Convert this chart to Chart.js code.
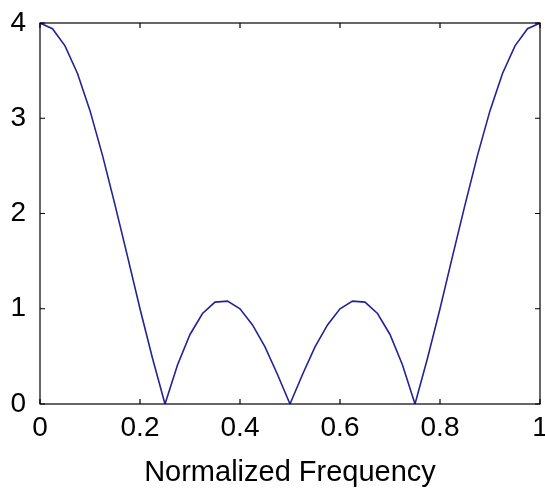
<!DOCTYPE html>
<html>
<head>
<meta charset="utf-8">
<script src="https://cdn.jsdelivr.net/npm/chart.js@4"></script>
<style>
  html, body { margin: 0; padding: 0; background: #fff; overflow: hidden; }
  #wrap { width: 545px; height: 497px; }
</style>
</head>
<body>
<div id="wrap"><canvas id="myChart"></canvas></div>
<script>
// valores (respuesta en magnitud)
const frecuencias = [0, 0.025, 0.05, 0.075, 0.1, 0.125, 0.15, 0.175, 0.2, 0.225,
  0.25, 0.275, 0.3, 0.325, 0.35, 0.375, 0.4, 0.425, 0.45, 0.475,
  0.5, 0.525, 0.55, 0.575, 0.6, 0.625, 0.65, 0.675, 0.7, 0.725,
  0.75, 0.775, 0.8, 0.825, 0.85, 0.875, 0.9, 0.925, 0.95, 0.975, 1];
const magnitud = [4, 3.94, 3.76, 3.47, 3.08, 2.61, 2.09, 1.55, 1.0, 0.48,
  0, 0.41, 0.73, 0.95, 1.07, 1.08, 1.0, 0.83, 0.6, 0.31,
  0, 0.31, 0.6, 0.83, 1.0, 1.08, 1.07, 0.95, 0.73, 0.41,
  0, 0.48, 1.0, 1.55, 2.09, 2.61, 3.08, 3.47, 3.76, 3.94, 4];
const xTicks = [0, 0.2, 0.4, 0.6, 0.8, 1];
const xTickLabels = ["0", "0.2", "0.4", "0.6", "0.8", "1"];
const yTicks = [0, 1, 2, 3, 4];
const yTickLabels = ["0", "1", "2", "3", "4"];
const tituloX = "Normalized Frequency";

const fuente = "'Liberation Sans', Arial, sans-serif";

// marco y marcas hacia adentro como en la figura original
const marcoPlugin = {
  id: "marco",
  afterDatasetsDraw(chart) {
    const { ctx, chartArea: a, scales } = chart;
    const largo = 5;
    ctx.save();
    ctx.strokeStyle = "#000";
    ctx.lineWidth = 1.2;
    ctx.strokeRect(a.left, a.top, a.right - a.left, a.bottom - a.top);
    ctx.beginPath();
    xTicks.forEach((v) => {
      const px = scales.x.getPixelForValue(v);
      ctx.moveTo(px, a.bottom);
      ctx.lineTo(px, a.bottom - largo);
      ctx.moveTo(px, a.top);
      ctx.lineTo(px, a.top + largo);
    });
    yTicks.forEach((v) => {
      const py = scales.y.getPixelForValue(v);
      ctx.moveTo(a.left, py);
      ctx.lineTo(a.left + largo, py);
      ctx.moveTo(a.right, py);
      ctx.lineTo(a.right - largo, py);
    });
    ctx.stroke();
    ctx.restore();
  },
};

const datos = frecuencias.map((f, i) => ({ x: f, y: magnitud[i] }));

new Chart(document.querySelector("#myChart"), {
  type: "line",
  data: {
    datasets: [
      {
        data: datos,
        borderColor: "rgb(35, 35, 150)",
        borderWidth: 1.6,
        pointRadius: 0,
        tension: 0,
        fill: false,
      },
    ],
  },
  options: {
    responsive: true,
    maintainAspectRatio: false,
    animation: false,
    events: [],
    layout: { padding: { top: 23, right: 5, bottom: 0, left: 0 } },
    plugins: { legend: { display: false }, tooltip: { enabled: false } },
    scales: {
      x: {
        type: "linear",
        min: 0,
        max: 1,
        grid: { display: false, drawTicks: false },
        border: { display: false },
        afterBuildTicks: (s) => { s.ticks = xTicks.map((v) => ({ value: v })); },
        ticks: {
          padding: 7,
          color: "#000",
          font: { family: fuente, size: 28 },
          maxRotation: 0,
          callback: (v) => xTickLabels[xTicks.indexOf(v)],
        },
        title: {
          display: true,
          text: tituloX,
          color: "#000",
          font: { family: fuente, size: 29 },
          padding: { top: 4, bottom: 7 },
        },
        afterFit: (s) => { s.height = 93; s.paddingRight = 0; s.paddingLeft = 0; },
      },
      y: {
        min: 0,
        max: 4,
        grid: { display: false, drawTicks: false },
        border: { display: false },
        afterBuildTicks: (s) => { s.ticks = yTicks.map((v) => ({ value: v })); },
        ticks: {
          padding: 14,
          color: "#000",
          font: { family: fuente, size: 28 },
          callback: (v) => yTickLabels[yTicks.indexOf(v)],
        },
        afterFit: (s) => { s.width = 40; s.paddingTop = 0; s.paddingBottom = 0; },
      },
    },
  },
  plugins: [marcoPlugin],
});
</script>
</body>
</html>
